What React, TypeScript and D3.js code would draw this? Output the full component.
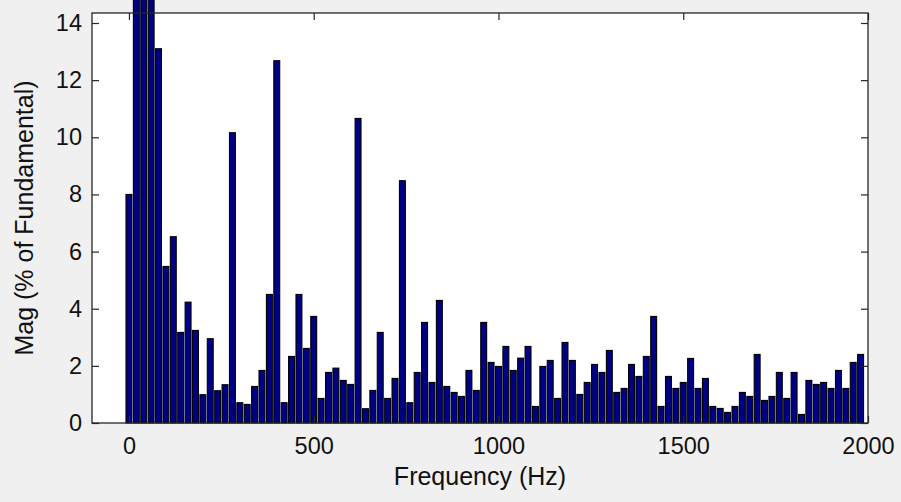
import { useEffect, useRef } from 'react';
import * as d3 from 'd3';

// harmonic spectrum, one bin every 20 Hz
const frequencies = [
  0, 20, 40, 60, 80, 100, 120, 140, 160, 180, 200, 220, 240, 260, 280, 300, 320, 340, 360, 380,
  400, 420, 440, 460, 480, 500, 520, 540, 560, 580, 600, 620, 640, 660, 680, 700, 720, 740, 760, 780,
  800, 820, 840, 860, 880, 900, 920, 940, 960, 980, 1000, 1020, 1040, 1060, 1080, 1100, 1120, 1140, 1160, 1180,
  1200, 1220, 1240, 1260, 1280, 1300, 1320, 1340, 1360, 1380, 1400, 1420, 1440, 1460, 1480, 1500, 1520, 1540, 1560, 1580,
  1600, 1620, 1640, 1660, 1680, 1700, 1720, 1740, 1760, 1780, 1800, 1820, 1840, 1860, 1880, 1900, 1920, 1940, 1960, 1980
];

// magnitude in % of fundamental (bins 20-60 Hz run off the top of the axes)
const magnitudes = [
  8.0, 30, 100, 25, 13.1, 5.48, 6.52, 3.17, 4.23, 3.24, 0.99, 2.95, 1.13, 1.34, 10.16, 0.71, 0.65, 1.28, 1.84, 4.5,
  12.68, 0.71, 2.33, 4.5, 2.61, 3.73, 0.86, 1.77, 1.92, 1.49, 1.35, 10.66, 0.5, 1.14, 3.17, 0.86, 1.56, 8.48, 0.71, 1.77,
  3.52, 1.42, 4.29, 1.28, 1.07, 0.93, 1.84, 1.14, 3.52, 2.12, 1.98, 2.68, 1.84, 2.27, 2.68, 0.58, 1.98, 2.19, 0.86, 2.82,
  2.19, 1.0, 1.42, 2.05, 1.77, 2.54, 1.07, 1.21, 2.05, 1.63, 2.33, 3.73, 0.58, 1.63, 1.21, 1.42, 2.26, 1.21, 1.56, 0.58,
  0.51, 0.37, 0.58, 1.07, 0.93, 2.4, 0.79, 0.93, 1.77, 0.86, 1.77, 0.3, 1.49, 1.35, 1.42, 1.21, 1.84, 1.21, 2.12, 2.4
];

const xTicks = [0, 500, 1000, 1500, 2000];
const yTicks = [0, 2, 4, 6, 8, 10, 12, 14];

const FONT = '"Liberation Sans", Arial, sans-serif';

export default function App() {
  const svgRef = useRef<SVGSVGElement | null>(null);

  useEffect(() => {
    const svg = svgRef.current;
    if (!svg) return;

    const width = 901;
    const height = 502;
    const box = { left: 92, right: 868, top: 13, bottom: 423 };

    const x = d3.scaleLinear().domain([-100, 2000]).range([box.left, box.right]);
    const y = d3.scaleLinear().domain([0, 14.35]).range([box.bottom, box.top]);
    const barW = x(16) - x(0);

    const root = d3.select(svg);
    root.attr('viewBox', `0 0 ${width} ${height}`);
    root.selectAll('*').remove();

    root.append('rect').attr('width', width).attr('height', height).attr('fill', '#f0f0f0');

    root
      .append('rect')
      .attr('x', box.left)
      .attr('y', box.top)
      .attr('width', box.right - box.left)
      .attr('height', box.bottom - box.top)
      .attr('fill', '#ffffff');

    root
      .append('g')
      .selectAll('rect')
      .data(frequencies)
      .join('rect')
      .attr('x', (f) => x(f) - barW / 2)
      .attr('y', (_, i) => y(magnitudes[i]))
      .attr('width', barW)
      .attr('height', (_, i) => y(0) - y(magnitudes[i]))
      .attr('fill', '#000084')
      .attr('stroke', '#000000')
      .attr('stroke-width', 1.1);

    const styleAxis = (g: any) => {
      g.select('.domain').remove();
      g.selectAll('line').attr('stroke', '#262626').attr('stroke-width', 1.2);
      g.selectAll('text').attr('fill', '#111').attr('font-family', FONT).attr('font-size', 23.5);
    };

    root
      .append('g')
      .attr('transform', `translate(0,${box.bottom})`)
      .call(d3.axisBottom(x).tickValues(xTicks).tickSizeInner(-7).tickSizeOuter(0).tickPadding(14).tickFormat((d) => `${d}`))
      .call(styleAxis);

    root
      .append('g')
      .attr('transform', `translate(0,${box.top})`)
      .call(d3.axisTop(x).tickValues(xTicks).tickSizeInner(-7).tickSizeOuter(0).tickFormat(() => ''))
      .call(styleAxis);

    root
      .append('g')
      .attr('transform', `translate(${box.left},0)`)
      .call(d3.axisLeft(y).tickValues(yTicks).tickSizeInner(-7).tickSizeOuter(0).tickPadding(10).tickFormat((d) => `${d}`))
      .call(styleAxis);

    root
      .append('g')
      .attr('transform', `translate(${box.right},0)`)
      .call(d3.axisRight(y).tickValues(yTicks).tickSizeInner(-7).tickSizeOuter(0).tickFormat(() => ''))
      .call(styleAxis);

    root
      .append('rect')
      .attr('x', box.left)
      .attr('y', box.top)
      .attr('width', box.right - box.left)
      .attr('height', box.bottom - box.top)
      .attr('fill', 'none')
      .attr('stroke', '#262626')
      .attr('stroke-width', 1.3);

    root
      .append('text')
      .attr('x', (box.left + box.right) / 2)
      .attr('y', 485)
      .attr('text-anchor', 'middle')
      .attr('font-family', FONT)
      .attr('font-size', 25)
      .attr('fill', '#111')
      .text('Frequency (Hz)');

    root
      .append('text')
      .attr('transform', `translate(33,${(box.top + box.bottom) / 2}) rotate(-90)`)
      .attr('text-anchor', 'middle')
      .attr('font-family', FONT)
      .attr('font-size', 25)
      .attr('fill', '#111')
      .text('Mag (% of Fundamental)');
  }, []);

  return (
    <svg
      ref={svgRef}
      width={901}
      height={502}
      style={{ position: 'absolute', left: 0, top: 0, display: 'block' }}
    />
  );
}
